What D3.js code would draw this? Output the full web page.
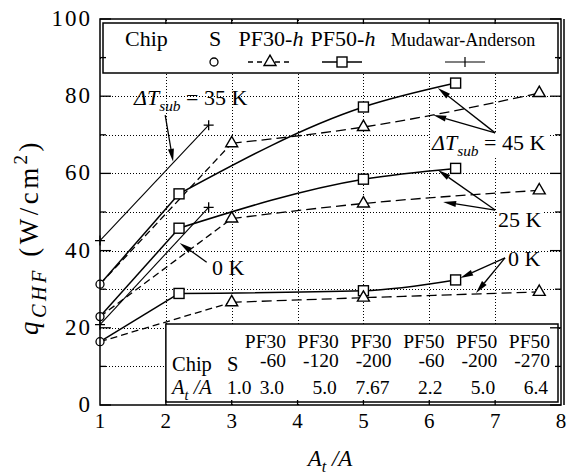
<!DOCTYPE html>
<html>
<head>
<meta charset="utf-8">
<script src="https://cdn.jsdelivr.net/npm/d3@7"></script>
<style>
  body { margin: 0; background: #fff; }
  text, tspan { font-family: "Liberation Serif", "DejaVu Serif", serif; fill: #000; }
</style>
</head>
<body>
<svg id="chart" width="575" height="474" font-family="Liberation Serif, DejaVu Serif, serif"></svg>
<script>
// ---- data: critical heat flux q_CHF (W/cm^2) vs. area ratio A_t/A ----
const subcooling = ["45 K", "25 K", "0 K"];

// smooth chip S (A_t/A = 1.0), one value per subcooling
const chipSX = 1.0;
const chipS = [31.3, 22.9, 16.4];

// pin-fin chips PF30-h
const pf30X = [3.0, 5.0, 7.67];
const pf30_45K = [67.8, 72.0, 80.8];
const pf30_25K = [48.3, 52.2, 55.6];
const pf30_0K = [26.6, 27.8, 29.3];

// pin-fin chips PF50-h
const pf50X = [2.2, 5.0, 6.4];
const pf50_45K = [54.7, 77.2, 83.4];
const pf50_25K = [45.8, 58.5, 61.3];
const pf50_0K = [28.9, 29.6, 32.4];

// Mudawar-Anderson correlation
const mudawarX = [1.0, 2.65];
const mudawar35K = [42.6, 72.5];
const mudawar0K = [20.8, 51.2];

// axis ticks
const xTicks = [1, 2, 3, 4, 5, 6, 7, 8];
const yTicks = [0, 20, 40, 60, 80, 100];

// table of chips
const tableChip = ["PF30", "PF30", "PF30", "PF50", "PF50", "PF50"];
const tablePitch = ["-60", "-120", "-200", "-60", "-200", "-270"];
const tableRatio = ["3.0", "5.0", "7.67", "2.2", "5.0", "6.4"];

// ---- layout ----
const svg = d3.select("#chart");
const x = d3.scaleLinear().domain([1, 8]).range([100, 561]);
const y = d3.scaleLinear().domain([0, 100]).range([405, 19]);
const FONT = 21;

function rich(g, px, py, parts, size, anchor) {
  const t = g.append("text").attr("x", px).attr("y", py)
    .attr("font-size", size).attr("text-anchor", anchor || "start");
  let shift = 0;
  parts.forEach(p => {
    const s = p.sub ? size * 0.28 : p.sup ? -size * 0.4 : 0;
    const ts = t.append("tspan").text(p.t).attr("dy", s - shift);
    if (p.sub || p.sup) ts.attr("font-size", size * (p.scale || 0.7));
    if (p.i) ts.attr("font-style", "italic");
    shift = s;
  });
  return t;
}

// grid
const grid = svg.append("g").attr("stroke", "#000").attr("stroke-width", 1)
  .attr("stroke-dasharray", "1,2");
d3.range(10, 100, 10).forEach(v => {
  grid.append("line").attr("x1", x(1)).attr("x2", x(8))
    .attr("y1", Math.round(y(v)) + 0.5).attr("y2", Math.round(y(v)) + 0.5);
});
d3.range(2, 8).forEach(v => {
  grid.append("line").attr("y1", y(0)).attr("y2", y(100))
    .attr("x1", Math.round(x(v)) + 0.5).attr("x2", Math.round(x(v)) + 0.5);
});

// series lines
const line = d3.line().x(d => x(d[0])).y(d => y(d[1]));
const curve = d3.line().x(d => x(d[0])).y(d => y(d[1])).curve(d3.curveMonotoneX);
const lines = svg.append("g").attr("fill", "none").attr("stroke", "#000");

const pf30Series = [pf30_45K, pf30_25K, pf30_0K];
const pf50Series = [pf50_45K, pf50_25K, pf50_0K];

pf50Series.forEach((vals, i) => {
  lines.append("path").attr("stroke-width", 1.5)
    .attr("d", line([[chipSX, chipS[i]], [pf50X[0], vals[0]]]));
  lines.append("path").attr("stroke-width", 1.5)
    .attr("d", curve(pf50X.map((v, j) => [v, vals[j]])));
});
pf30Series.forEach((vals, i) => {
  lines.append("path").attr("stroke-width", 1.3).attr("stroke-dasharray", "7,4")
    .attr("d", line([[chipSX, chipS[i]], [pf30X[0], vals[0]]]));
  lines.append("path").attr("stroke-width", 1.3).attr("stroke-dasharray", "10,5")
    .attr("d", curve(pf30X.map((v, j) => [v, vals[j]])));
});
[mudawar35K, mudawar0K].forEach(vals => {
  lines.append("path").attr("stroke-width", 1.1)
    .attr("d", line(mudawarX.map((v, j) => [v, vals[j]])));
});

// markers
const marks = svg.append("g").attr("stroke", "#000").attr("fill", "#fff");
const tri = d3.symbol().type(d3.symbolTriangle).size(62);
function square(px, py) {
  marks.append("rect").attr("x", px - 5).attr("y", py - 5).attr("width", 10).attr("height", 10)
    .attr("stroke-width", 1.4);
}
function triangle(px, py) {
  marks.append("path").attr("d", tri()).attr("transform", `translate(${px},${py})`)
    .attr("stroke-width", 1.4);
}
function circle(px, py) {
  marks.append("circle").attr("cx", px).attr("cy", py).attr("r", 4).attr("stroke-width", 1.3);
}
function plus(px, py) {
  marks.append("path").attr("d", `M${px - 5},${py}H${px + 5}M${px},${py - 5}V${py + 5}`)
    .attr("stroke-width", 1.3);
}
pf50Series.forEach(vals => vals.forEach((v, j) => square(x(pf50X[j]), y(v))));
pf30Series.forEach(vals => vals.forEach((v, j) => triangle(x(pf30X[j]), y(v))));
chipS.forEach(v => circle(x(chipSX), y(v)));
[mudawar35K, mudawar0K].forEach(vals => vals.forEach((v, j) => plus(x(mudawarX[j]), y(v))));

// legend
const lg = svg.append("g");
lg.append("rect").attr("x", 103).attr("y", 23).attr("width", 455).attr("height", 50)
  .attr("fill", "#fff").attr("stroke", "#000").attr("stroke-width", 1.5);
lg.append("text").attr("x", 125).attr("y", 46).attr("font-size", 22).text("Chip");
lg.append("text").attr("x", 215).attr("y", 46).attr("font-size", 22).attr("text-anchor", "middle").text("S");
rich(lg, 271, 46, [{ t: "PF30-" }, { t: "h", i: true }], 22, "middle");
rich(lg, 343, 46, [{ t: "PF50-" }, { t: "h", i: true }], 22, "middle");
lg.append("text").attr("x", 463).attr("y", 46).attr("font-size", 18).attr("text-anchor", "middle").text("Mudawar-Anderson");
const ly = 62;
lg.append("circle").attr("cx", 214).attr("cy", ly).attr("r", 4).attr("fill", "#fff").attr("stroke", "#000").attr("stroke-width", 1.3);
lg.append("line").attr("x1", 248).attr("x2", 292).attr("y1", ly).attr("y2", ly)
  .attr("stroke", "#000").attr("stroke-width", 1.3).attr("stroke-dasharray", "5,4");
lg.append("path").attr("d", tri()).attr("transform", `translate(270,${ly})`)
  .attr("fill", "#fff").attr("stroke", "#000").attr("stroke-width", 1.4);
lg.append("line").attr("x1", 322).attr("x2", 362).attr("y1", ly).attr("y2", ly)
  .attr("stroke", "#000").attr("stroke-width", 1.5);
lg.append("rect").attr("x", 337).attr("y", ly - 5).attr("width", 10).attr("height", 10)
  .attr("fill", "#fff").attr("stroke", "#000").attr("stroke-width", 1.4);
lg.append("path").attr("d", `M445,${ly}H485M465,${ly - 5}V${ly + 5}`)
  .attr("stroke", "#000").attr("stroke-width", 1.2);

// chip table
const tb = svg.append("g");
const TF = 19.5;
tb.append("rect").attr("x", x(2)).attr("y", 324).attr("width", 558 - x(2)).attr("height", 78)
  .attr("fill", "#fff").attr("stroke", "#000").attr("stroke-width", 1.5);
tb.append("text").attr("x", 172).attr("y", 371).attr("font-size", TF + 1).text("Chip");
tb.append("text").attr("x", 227).attr("y", 371).attr("font-size", TF + 1).text("S");
rich(tb, 172, 394, [{ t: "A", i: true }, { t: "t", i: true, sub: true }, { t: " /", i: true }, { t: "A", i: true }], TF + 1);
tb.append("text").attr("x", 227).attr("y", 394).attr("font-size", TF).text("1.0");
const colRight = d3.scaleLinear().domain([0, 5]).range([286, 550]);
tableChip.forEach((c, i) => {
  tb.append("text").attr("x", colRight(i)).attr("y", 348).attr("font-size", TF).attr("text-anchor", "end").text(c);
  tb.append("text").attr("x", colRight(i)).attr("y", 367).attr("font-size", TF).attr("text-anchor", "end").text(tablePitch[i]);
  tb.append("text").attr("x", colRight(i) - 2).attr("y", 394).attr("font-size", TF).attr("text-anchor", "end").text(tableRatio[i]);
});

// frame
const fr = svg.append("g").attr("stroke", "#000").attr("fill", "none");
fr.append("rect").attr("x", x(1)).attr("y", y(100)).attr("width", x(8) - x(1)).attr("height", y(0) - y(100))
  .attr("stroke-width", 1.5);
fr.append("line").attr("x1", 564).attr("x2", 564).attr("y1", y(100)).attr("y2", y(0)).attr("stroke-width", 1.5);

// ticks
d3.range(0, 101, 10).forEach(v => {
  const len = v % 20 === 0 ? 11 : 6;
  fr.append("line").attr("x1", x(1)).attr("x2", x(1) + len).attr("y1", y(v)).attr("y2", y(v)).attr("stroke-width", 1.3);
  fr.append("line").attr("x1", x(8)).attr("x2", x(8) - len).attr("y1", y(v)).attr("y2", y(v)).attr("stroke-width", 1.3);
});
d3.range(2, 8).forEach(v => {
  fr.append("line").attr("x1", x(v)).attr("x2", x(v)).attr("y1", y(0)).attr("y2", y(0) - 5).attr("stroke-width", 1.3);
  fr.append("line").attr("x1", x(v)).attr("x2", x(v)).attr("y1", y(100)).attr("y2", y(100) + 5).attr("stroke-width", 1.3);
});

// tick labels
const ax = svg.append("g");
xTicks.forEach(v => {
  ax.append("text").attr("x", x(v)).attr("y", 428).attr("font-size", FONT).attr("text-anchor", "middle").text(v);
});
yTicks.forEach(v => {
  ax.append("text").attr("x", 92).attr("y", y(v) + 7).attr("font-size", 23)
    .attr("text-anchor", "end").attr("letter-spacing", 2).text(v);
});

// axis titles
rich(ax, 330, 466, [{ t: "A", i: true }, { t: "t", i: true, sub: true }, { t: " /", i: true }, { t: "A", i: true }], 23, "middle");
const yt = ax.append("g").attr("transform", "translate(38,237) rotate(-90)");
rich(yt, 0, 0, [{ t: "q", i: true }, { t: "CHF", i: true, sub: true, scale: 0.75 }, { t: "  (W/cm" }, { t: "2", sup: true }, { t: ")" }], 27, "middle")
  .attr("letter-spacing", 3.5);

// annotations with arrows (positions in data units)
const ann = svg.append("g");
function arrow(x0, y0, x1, y1) {
  const X0 = x(x0), Y0 = y(y0), X1 = x(x1), Y1 = y(y1);
  const a = Math.atan2(Y1 - Y0, X1 - X0), L = 13, W = 3;
  const bx = X1 - L * Math.cos(a), by = Y1 - L * Math.sin(a);
  ann.append("line").attr("x1", X0).attr("y1", Y0).attr("x2", bx).attr("y2", by)
    .attr("stroke", "#000").attr("stroke-width", 1.3);
  ann.append("path").attr("fill", "#000")
    .attr("d", `M${X1},${Y1}L${bx + W * Math.sin(a)},${by - W * Math.cos(a)}L${bx - W * Math.sin(a)},${by + W * Math.cos(a)}Z`);
}
const dT = n => [{ t: "Δ", i: true }, { t: "T", i: true }, { t: "sub", i: true, sub: true }, { t: " = " + n }];
rich(ann, 134, 105, dT("35 K"), 22);
arrow(1.99, 75.1, 2.11, 63.0);
ann.append("rect").attr("x", 430).attr("y", 132).attr("width", 118).attr("height", 24).attr("fill", "#fff");
rich(ann, 432, 150, dT(subcooling[0]), 22);
arrow(7.0, 70.5, 6.13, 82.1);
arrow(7.0, 70.5, 6.06, 75.1);
ann.append("rect").attr("x", 497).attr("y", 211).attr("width", 46).attr("height", 20).attr("fill", "#fff");
ann.append("text").attr("x", 498).attr("y", 227).attr("font-size", 22).text(subcooling[1]);
arrow(7.0, 50.5, 6.13, 60.9);
arrow(7.0, 50.5, 6.21, 52.6);
ann.append("text").attr("x", 508).attr("y", 266).attr("font-size", 22).text(subcooling[2]);
arrow(7.15, 38.1, 6.47, 32.9);
arrow(7.15, 38.1, 6.71, 29.0);
ann.append("text").attr("x", 212).attr("y", 275).attr("font-size", 22).text(subcooling[2]);
arrow(2.62, 37.0, 2.21, 42.0);
</script>
</body>
</html>
